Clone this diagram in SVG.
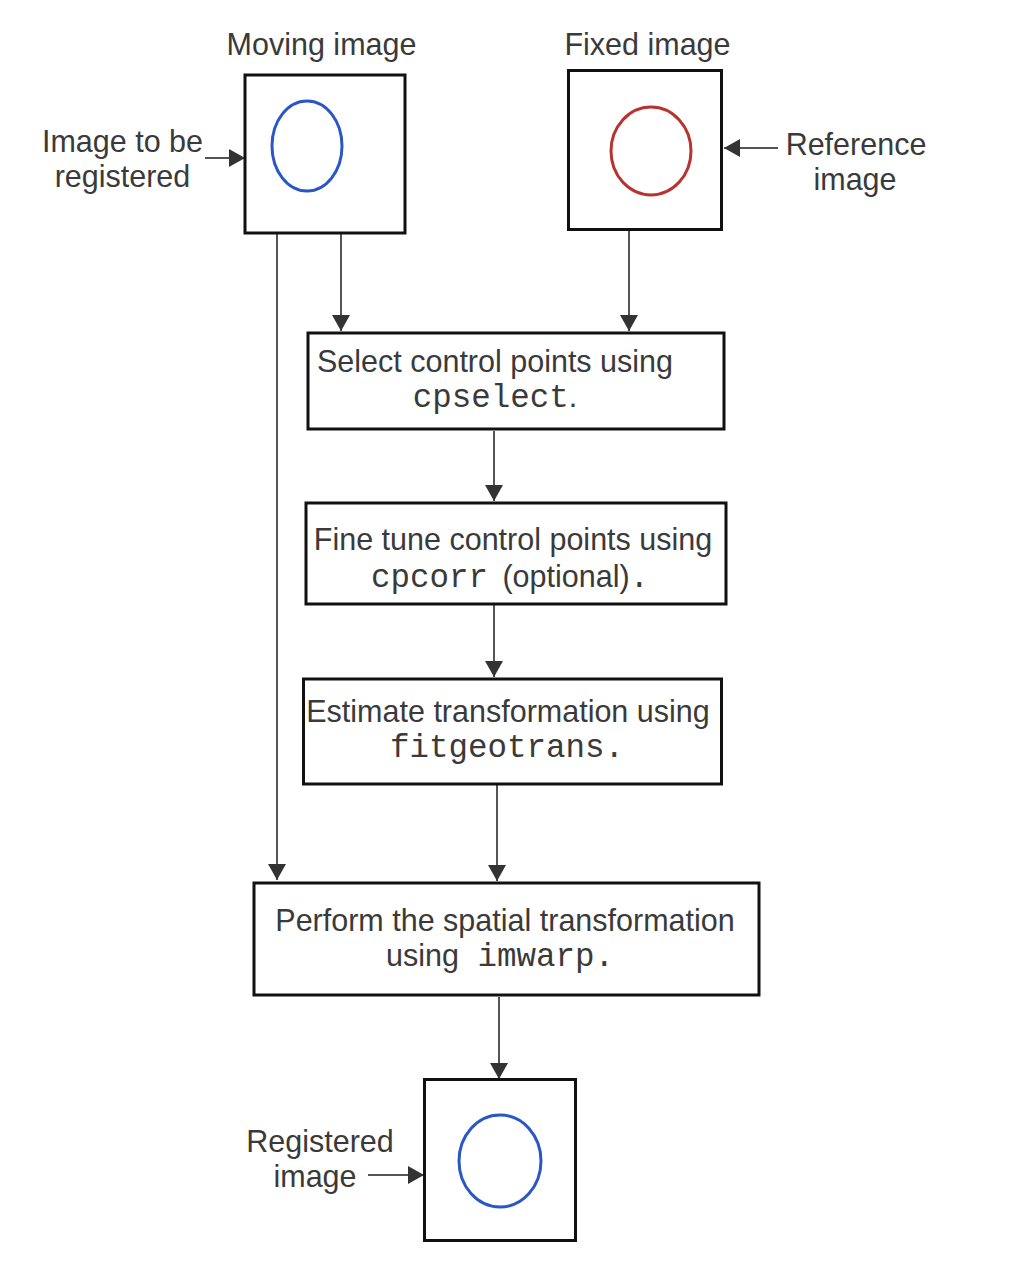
<svg xmlns="http://www.w3.org/2000/svg" width="1030" height="1274" viewBox="0 0 1030 1274">
<style>
.box{fill:#fff;stroke:#111;stroke-width:3}
.lbl{font-family:"Liberation Sans",Arial,sans-serif;font-size:30.5px;fill:#3a3a3a;text-anchor:middle}
.mono{font-family:"Liberation Mono","Courier New",monospace;font-size:32.5px;fill:#3a3a3a}
.conn{stroke:#555;stroke-width:2;fill:none;marker-end:url(#ah)}
.blue{fill:none;stroke:#2a56c6;stroke-width:3}
.red{fill:none;stroke:#b83230;stroke-width:3}
</style>
<defs>
<marker id="ah" viewBox="0 0 16 18" refX="16" refY="9" markerWidth="16" markerHeight="18" orient="auto" markerUnits="userSpaceOnUse">
<path d="M0,0 L16,9 L0,18 z" fill="#333"/>
</marker>
</defs>
<rect width="1030" height="1274" fill="#fff"/>
<g id="connectors">
<line class="conn" x1="277" y1="234" x2="277" y2="880"/>
<line class="conn" x1="341" y1="234" x2="341" y2="331"/>
<line class="conn" x1="629" y1="231" x2="629" y2="331"/>
<line class="conn" x1="494" y1="431" x2="494" y2="501"/>
<line class="conn" x1="494" y1="605" x2="494" y2="677"/>
<line class="conn" x1="497" y1="785" x2="497" y2="881"/>
<line class="conn" x1="499" y1="997" x2="499" y2="1079"/>
<line class="conn" x1="205" y1="158" x2="245" y2="158"/>
<line class="conn" x1="778" y1="148" x2="724" y2="148"/>
<line class="conn" x1="368" y1="1175" x2="424" y2="1175"/>
</g>
<g id="moving">
<text class="lbl" x="321.5" y="55">Moving image</text>
<rect class="box" x="245" y="75" width="160" height="158"/>
<ellipse class="blue" cx="307" cy="146" rx="35" ry="45"/>
</g>
<g id="moving-label">
<text class="lbl" x="122.5" y="152">Image to be</text>
<text class="lbl" x="122.5" y="187">registered</text>
</g>
<g id="fixed">
<text class="lbl" x="647.5" y="55">Fixed image</text>
<rect class="box" x="568.5" y="70.5" width="153" height="159"/>
<ellipse class="red" cx="651" cy="151" rx="40" ry="44"/>
</g>
<g id="fixed-label">
<text class="lbl" x="856" y="155">Reference</text>
<text class="lbl" x="855" y="190">image</text>
</g>
<g id="select">
<rect class="box" x="308" y="333" width="416" height="96"/>
<text class="lbl" x="495" y="372">Select control points using</text>
<text class="lbl" x="495" y="407"><tspan class="mono">cpselect</tspan>.</text>
</g>
<g id="finetune">
<rect class="box" x="306" y="503" width="420" height="101"/>
<text class="lbl" x="513" y="550">Fine tune control points using</text>
<text class="lbl" x="510" y="587"><tspan class="mono">cpcorr</tspan> <tspan dx="6">(optional)</tspan><tspan class="mono">.</tspan></text>
</g>
<g id="estimate">
<rect class="box" x="303.5" y="679" width="418" height="105"/>
<text class="lbl" x="508" y="722">Estimate transformation using</text>
<text class="lbl" x="507" y="757"><tspan class="mono">fitgeotrans.</tspan></text>
</g>
<g id="perform">
<rect class="box" x="254" y="883" width="505" height="112"/>
<text class="lbl" x="505" y="931">Perform the spatial transformation</text>
<text class="lbl" x="500" y="966">using <tspan class="mono" dx="10">imwarp.</tspan></text>
</g>
<g id="registered">
<rect class="box" x="424.5" y="1079.5" width="151" height="161"/>
<ellipse class="blue" cx="500" cy="1161" rx="41" ry="46"/>
</g>
<g id="registered-label">
<text class="lbl" x="320" y="1152">Registered</text>
<text class="lbl" x="315" y="1187">image</text>
</g>
</svg>
